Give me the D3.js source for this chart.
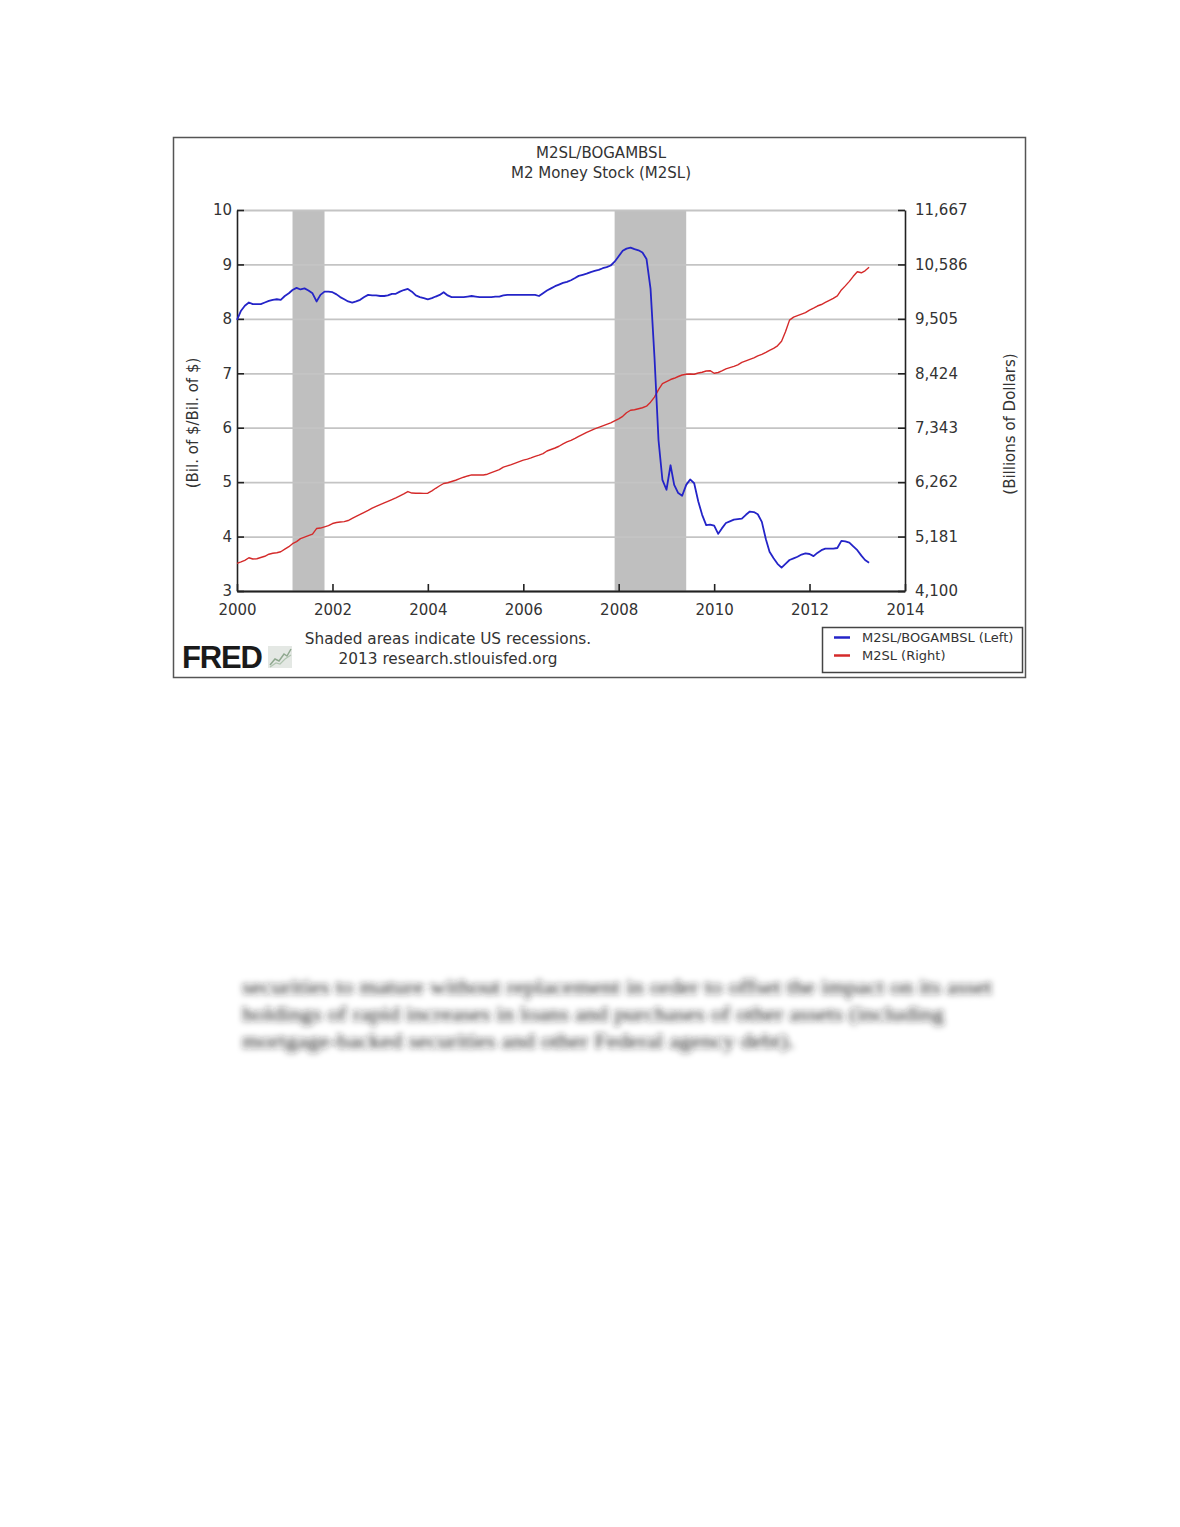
<!DOCTYPE html>
<html>
<head>
<meta charset="utf-8">
<script src="https://cdn.jsdelivr.net/npm/d3@7"></script>
<style>
  body { margin: 0; background: #fff; }
</style>
</head>
<body>
<div id="container"></div>
<script>

// monthly observations, first value is Jan 2000
const startMonth = new Date(2000, 0, 1);

// M2SL/BOGAMBSL ratio (left axis)
const ratioValues = [
  7.98, 8.15, 8.24, 8.30, 8.27, 8.27, 8.27, 8.30, 8.33, 8.35, 8.36, 8.35,
  8.42, 8.47, 8.53, 8.57, 8.54, 8.56, 8.52, 8.47, 8.32, 8.44, 8.50, 8.50,
  8.49, 8.45, 8.40, 8.36, 8.32, 8.30, 8.32, 8.35, 8.40, 8.44, 8.43, 8.43,
  8.42, 8.42, 8.43, 8.46, 8.46, 8.50, 8.53, 8.55, 8.50, 8.43, 8.40, 8.38,
  8.36, 8.38, 8.41, 8.44, 8.49, 8.43, 8.40, 8.40, 8.40, 8.40, 8.41, 8.42,
  8.41, 8.40, 8.40, 8.40, 8.40, 8.41, 8.41, 8.43, 8.44, 8.44, 8.44, 8.44,
  8.44, 8.44, 8.44, 8.44, 8.42, 8.47, 8.52, 8.56, 8.60, 8.63, 8.66, 8.68,
  8.71, 8.75, 8.79, 8.81, 8.83, 8.86, 8.88, 8.90, 8.93, 8.95, 8.98, 9.05,
  9.15, 9.25, 9.29, 9.31, 9.28, 9.26, 9.22, 9.10, 8.55, 7.30, 5.77, 5.04,
  4.86, 5.31, 4.95, 4.80, 4.75, 4.95, 5.05, 4.98, 4.65, 4.40, 4.21, 4.22,
  4.20, 4.05, 4.15, 4.25, 4.28, 4.31, 4.32, 4.33, 4.40, 4.46, 4.45, 4.41,
  4.27, 3.95, 3.72, 3.60, 3.50, 3.43, 3.50, 3.57, 3.60, 3.63, 3.67, 3.69,
  3.68, 3.64, 3.70, 3.75, 3.78, 3.78, 3.78, 3.79, 3.92, 3.91, 3.89, 3.82,
  3.75, 3.65, 3.57, 3.52
];

// M2SL, billions of dollars (right axis)
const m2Values = [
  4650, 4680, 4710, 4760, 4735, 4740, 4765, 4790, 4830, 4850, 4860, 4880,
  4930, 4980, 5040, 5080, 5140, 5170, 5200, 5230, 5340, 5350, 5375, 5400,
  5440, 5460, 5470, 5478, 5500, 5540, 5580, 5620, 5660, 5700, 5745, 5780,
  5815, 5850, 5880, 5915, 5950, 5990, 6030, 6075, 6045, 6040, 6040, 6038,
  6042, 6090, 6140, 6190, 6235, 6250, 6275, 6300, 6330, 6360, 6385, 6405,
  6405, 6405, 6405, 6420, 6450, 6480, 6510, 6560, 6585, 6610, 6640, 6670,
  6700, 6720, 6745, 6775, 6800, 6830, 6880, 6910, 6940, 6975, 7020, 7060,
  7090, 7130, 7170, 7210, 7250, 7285, 7320, 7350, 7380, 7410, 7440, 7480,
  7520, 7570, 7640, 7690, 7700, 7720, 7740, 7770, 7850, 7950, 8100, 8220,
  8260, 8300, 8325, 8360, 8390, 8405, 8410, 8405, 8430, 8445, 8470, 8475,
  8425, 8440, 8470, 8510, 8535, 8560, 8590, 8640, 8670, 8700, 8730, 8770,
  8800, 8840, 8880, 8920, 8970, 9060, 9250, 9480, 9540, 9570, 9600, 9630,
  9680, 9720, 9760, 9790, 9830, 9870, 9910, 9960, 10080, 10160, 10250, 10350,
  10440, 10420, 10460, 10530
];

// US recessions [start, end]
const recessions = [
  [new Date(2001, 2, 1), new Date(2001, 10, 1)],
  [new Date(2007, 11, 1), new Date(2009, 5, 1)]
];

const leftTicks = [3, 4, 5, 6, 7, 8, 9, 10];
const rightTicks = [4100, 5181, 6262, 7343, 8424, 9505, 10586, 11667];
const yearTicks = [2000, 2002, 2004, 2006, 2008, 2010, 2012, 2014];

const titleLines = ["M2SL/BOGAMBSL", "M2 Money Stock (M2SL)"];
const seriesNames = ["M2SL/BOGAMBSL (Left)", "M2SL (Right)"];
const noteLines = ["Shaded areas indicate US recessions.", "2013 research.stlouisfed.org"];
const paragraph = [
  "securities to mature without replacement in order to offset the impact on its asset",
  "holdings of rapid increases in loans and purchases of other assets (including",
  "mortgage-backed securities and other Federal agency debt)."
];

const width = 1180;
const height = 1527;
const font = "'DejaVu Sans', Verdana, sans-serif";
const textColor = "#333";
const blue = "#2424c8";
const red = "#d42a2a";

// plot box
const plotL = 237, plotR = 905, plotT = 210, plotB = 591;

const dates = ratioValues.map((d, i) => d3.timeMonth.offset(startMonth, i));

const x = d3.scaleTime()
  .domain([new Date(2000, 0, 1), new Date(2014, 0, 1)])
  .range([plotL, plotR]);

const yLeft = d3.scaleLinear().domain([3, 10]).range([plotB, plotT]);
const yRight = d3.scaleLinear().domain([4100, 11667]).range([plotB, plotT]);

const svg = d3.create("svg")
  .attr("width", width)
  .attr("height", height)
  .style("font-family", font);

svg.append("rect")
  .attr("width", width)
  .attr("height", height)
  .attr("fill", "#fff");

// chart frame
svg.append("rect")
  .attr("x", 173.5)
  .attr("y", 137.5)
  .attr("width", 852)
  .attr("height", 540)
  .attr("fill", "#fff")
  .attr("stroke", "#555")
  .attr("stroke-width", 1.5);

// title
svg.append("g")
  .selectAll("text")
  .data(titleLines)
  .join("text")
  .attr("x", 601)
  .attr("y", (d, i) => 158 + i * 20)
  .attr("text-anchor", "middle")
  .attr("font-size", 15)
  .attr("fill", textColor)
  .text(d => d);

// recession bands
svg.append("g")
  .selectAll("rect")
  .data(recessions)
  .join("rect")
  .attr("x", d => x(d[0]))
  .attr("y", plotT)
  .attr("width", d => x(d[1]) - x(d[0]))
  .attr("height", plotB - plotT)
  .attr("fill", "#bfbfbf");

// horizontal grid lines
svg.append("g")
  .attr("transform", `translate(${plotL},0)`)
  .call(d3.axisLeft(yLeft).tickValues(leftTicks).tickSize(-(plotR - plotL)).tickFormat(""))
  .call(g => g.select(".domain").remove())
  .call(g => g.selectAll(".tick line").attr("stroke", "#c4c4c4").attr("stroke-width", 1.8));

function styleAxis(g) {
  g.select(".domain").attr("stroke", "#222").attr("stroke-width", 1.6);
  g.selectAll(".tick line").attr("stroke", "#222").attr("stroke-width", 1.6);
  g.selectAll(".tick text")
    .attr("font-family", font)
    .attr("font-size", 15)
    .attr("fill", textColor);
}

// left axis
svg.append("g")
  .attr("transform", `translate(${plotL},0)`)
  .call(d3.axisLeft(yLeft).tickValues(leftTicks).tickSize(-7).tickSizeOuter(0).tickPadding(5)
    .tickFormat(d3.format("d")))
  .call(styleAxis);

// right axis
svg.append("g")
  .attr("transform", `translate(${plotR},0)`)
  .call(d3.axisRight(yRight).tickValues(rightTicks).tickSize(-7).tickSizeOuter(0).tickPadding(10)
    .tickFormat(d3.format(",")))
  .call(styleAxis);

// bottom axis
svg.append("g")
  .attr("transform", `translate(0,${plotB})`)
  .call(d3.axisBottom(x).tickValues(yearTicks.map(yr => new Date(yr, 0, 1)))
    .tickSize(-7).tickSizeOuter(0).tickPadding(13).tickFormat(d3.timeFormat("%Y")))
  .call(styleAxis)
  .call(g => g.select(".domain").attr("stroke-width", 2));

// axis titles
svg.append("text")
  .attr("transform", "translate(198,423) rotate(-90)")
  .attr("text-anchor", "middle")
  .attr("font-size", 15)
  .attr("fill", textColor)
  .text("(Bil. of $/Bil. of $)");

svg.append("text")
  .attr("transform", "translate(1015,424) rotate(-90)")
  .attr("text-anchor", "middle")
  .attr("font-size", 15)
  .attr("fill", textColor)
  .text("(Billions of Dollars)");

// series
const redLine = d3.line()
  .x((d, i) => x(dates[i]))
  .y(d => yRight(d));

const blueLine = d3.line()
  .x((d, i) => x(dates[i]))
  .y(d => yLeft(d));

svg.append("path")
  .datum(m2Values)
  .attr("d", redLine)
  .attr("fill", "none")
  .attr("stroke", red)
  .attr("stroke-width", 1.4)
  .attr("stroke-linejoin", "round");

svg.append("path")
  .datum(ratioValues)
  .attr("d", blueLine)
  .attr("fill", "none")
  .attr("stroke", blue)
  .attr("stroke-width", 1.8)
  .attr("stroke-linejoin", "round");

// footnote
svg.append("g")
  .selectAll("text")
  .data(noteLines)
  .join("text")
  .attr("x", 448)
  .attr("y", (d, i) => 644 + i * 20)
  .attr("text-anchor", "middle")
  .attr("font-size", 15.3)
  .attr("fill", textColor)
  .text(d => d);

// FRED logo
svg.append("text")
  .attr("x", 182)
  .attr("y", 668)
  .attr("font-family", "'Liberation Sans', Arial, sans-serif")
  .attr("font-weight", "bold")
  .attr("font-size", 31)
  .attr("letter-spacing", -1.2)
  .attr("fill", "#1a1a1a")
  .text("FRED");

const icon = svg.append("g").attr("transform", "translate(268,646)");
icon.append("rect")
  .attr("width", 24)
  .attr("height", 22)
  .attr("fill", "#e4e8e4");
icon.append("path")
  .attr("d", "M2,19 L7,13 L11,15 L16,8 L19,10 L23,3")
  .attr("fill", "none")
  .attr("stroke", "#8fa88f")
  .attr("stroke-width", 1.5);
icon.append("path")
  .attr("d", "M2,21 L8,17 L12,18 L17,13 L23,9")
  .attr("fill", "none")
  .attr("stroke", "#b0c4b0")
  .attr("stroke-width", 1.2);

// legend
const legend = svg.append("g");
legend.append("rect")
  .attr("x", 822.5)
  .attr("y", 627.5)
  .attr("width", 200)
  .attr("height", 45)
  .attr("fill", "#fff")
  .attr("stroke", "#444")
  .attr("stroke-width", 1.5);

legend.selectAll("line")
  .data(seriesNames)
  .join("line")
  .attr("x1", 834)
  .attr("x2", 850)
  .attr("y1", (d, i) => 637.5 + i * 18)
  .attr("y2", (d, i) => 637.5 + i * 18)
  .attr("stroke", (d, i) => i === 0 ? blue : red)
  .attr("stroke-width", 2.5);

legend.selectAll("text")
  .data(seriesNames)
  .join("text")
  .attr("x", 862)
  .attr("y", (d, i) => 642 + i * 18)
  .attr("font-size", 13)
  .attr("fill", textColor)
  .text(d => d);

// blurred body text below the chart
const defs = svg.append("defs");
defs.append("filter")
  .attr("id", "blur")
  .attr("x", "-5%").attr("y", "-50%")
  .attr("width", "110%").attr("height", "200%")
  .append("feGaussianBlur")
  .attr("stdDeviation", 3.2);

const lineWidths = [750, 702, 552];
svg.append("g")
  .attr("filter", "url(#blur)")
  .selectAll("text")
  .data(paragraph)
  .join("text")
  .attr("x", 242)
  .attr("y", (d, i) => 994 + i * 27)
  .attr("font-family", "'Liberation Serif', 'Times New Roman', serif")
  .attr("font-size", 22)
  .attr("fill", "#222")
  .attr("textLength", (d, i) => lineWidths[i])
  .attr("lengthAdjust", "spacingAndGlyphs")
  .text(d => d);

container.append(svg.node());

</script>
</body>
</html>
